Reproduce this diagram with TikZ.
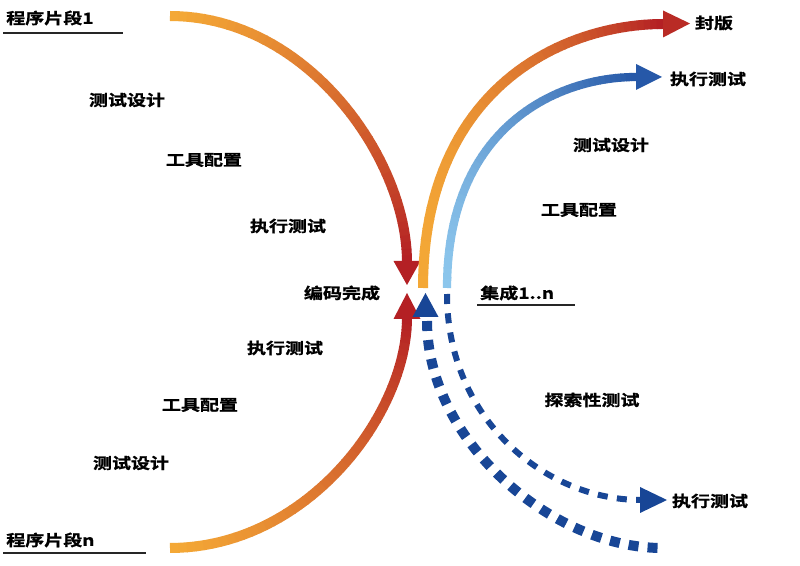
\documentclass[tikz,border=0pt]{standalone}
\usepackage{fontspec}
\newfontfamily\cjk{Noto Sans CJK SC Bold}[FakeStretch=1.24,FakeBold=1.2]
\definecolor{cOr}{RGB}{244,168,54}
\definecolor{cRd}{RGB}{180,32,36}
\definecolor{cLb}{RGB}{140,198,236}
\definecolor{cDb}{RGB}{38,88,168}
\definecolor{cNv}{RGB}{24,70,150}
% #8 = exponent shaping the colour change along the curve
\newcommand{\gradbez}[8]{%
  \foreach \i in {0,...,47}{%
    \pgfmathsetmacro\ta{\i/48}%
    \pgfmathsetmacro\tb{min(1,(\i+1.1)/48)}%
    \pgfmathtruncatemacro\pc{100-100*((\i/47)^#8)}%
    \path #1 .. controls #2 and #3 .. #4 coordinate[pos=\ta] (ga) coordinate[pos=\tb] (gb);%
    \draw[line width=#7, color=#5!\pc!#6] (ga) -- (gb);%
  }%
}
\tikzset{
  lbl/.style={font=\cjk\fontsize{11.5pt}{13pt}\selectfont, inner sep=0pt, text=black},
  uline/.style={line width=1.6pt, black!85},
  sqdots/.style={line width=7.5pt, cNv, dash pattern=on 7.5pt off 6.8pt},
  thindash/.style={line width=4.5pt, cNv, dash pattern=on 7.5pt off 7pt}
}
\begin{document}
\begin{tikzpicture}[x=0.75pt,y=-0.75pt]
\useasboundingbox (0,0) rectangle (800,566);
\fill[white] (0,0) rectangle (800,566);

% ---- left top arc
\coordinate (a0) at (170,16);
\coordinate (a3) at (407,262);
\gradbez{(a0)}{(307,16)}{(407,159)}{(a3)}{cOr}{cRd}{7.5pt}{1.2}
\fill[cRd] (393.5,261) -- (420.5,261) -- (407,285) -- cycle;

% ---- left bottom arc
\coordinate (b0) at (170,548);
\coordinate (b3) at (407,318);
\gradbez{(b0)}{(307,548)}{(407,414)}{(b3)}{cOr}{cRd}{7.5pt}{1.2}
\fill[cRd] (393.5,319) -- (420.5,319) -- (407,293) -- cycle;

% ---- right orange arc
\coordinate (c0) at (423,288);
\coordinate (c3) at (663,24);
\gradbez{(c0)}{(423,88)}{(563,24)}{(c3)}{cOr}{cRd}{7.5pt}{1.8}
\fill[cRd!92!cOr] (663,10.5) -- (663,37.5) -- (690,23.5) -- cycle;

% ---- right blue arc
\coordinate (d0) at (447,288);
\coordinate (d3) at (636,77);
\gradbez{(d0)}{(447,128)}{(556,77)}{(d3)}{cLb}{cDb}{6.2pt}{1.3}
\fill[cDb] (636,64) -- (636,90) -- (662,77) -- cycle;

% ---- blue triangle
\fill[cNv] (412.5,317) -- (438.5,317) -- (425.5,293) -- cycle;

% ---- dashed square dots
\coordinate (e0) at (427,321);
\coordinate (e3) at (662,548);
\draw[sqdots] (e0) .. controls (427,441) and (552,548) .. (e3);

% ---- thin dashed with arrow
\coordinate (f0) at (447,294);
\coordinate (f3) at (641,500);
\draw[thindash] (f0) .. controls (447,420) and (546,500) .. (f3);
\fill[cNv] (640,487) -- (640,513) -- (667,500) -- cycle;

% ---- labels
\node[lbl, anchor=west] (p1) at (6,18) {程序片段1};
\draw[uline] (3,33) -- (123,33);
\node[lbl, anchor=west] (pn) at (6,540) {程序片段n};
\draw[uline] (3,553) -- (146,553);
\node[lbl, anchor=west] (jc) at (480,293) {集成1..n};
\draw[uline] (477,305) -- (575,305);

\node[lbl] (l1) at (127,100) {测试设计};
\node[lbl] (l2) at (204,160) {工具配置};
\node[lbl] (l3) at (288,226) {执行测试};
\node[lbl] (l4) at (342,293) {编码完成};
\node[lbl] (l5) at (285,348) {执行测试};
\node[lbl] (l6) at (200,405) {工具配置};
\node[lbl] (l7) at (131,463) {测试设计};

\node[lbl] (r1) at (714,23) {封版};
\node[lbl] (r2) at (708,79) {执行测试};
\node[lbl] (r3) at (611,145) {测试设计};
\node[lbl] (r4) at (579,210) {工具配置};
\node[lbl] (r5) at (592,400) {探索性测试};
\node[lbl] (r6) at (710,501) {执行测试};
\end{tikzpicture}
\end{document}
